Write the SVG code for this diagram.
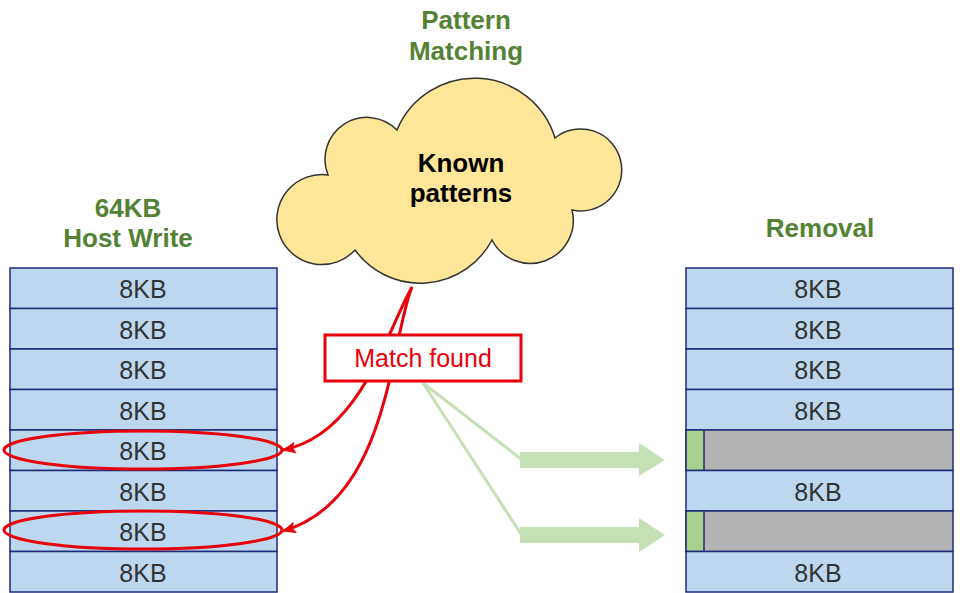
<svg xmlns="http://www.w3.org/2000/svg" width="960" height="593" viewBox="0 0 960 593">
<style>
.title{font-family:"Liberation Sans",Arial,sans-serif;font-weight:bold;font-size:26px;fill:#548235;text-anchor:middle}
.blk{fill:#BDD7EE;stroke:#1F2A7A;stroke-width:1.5}
.gray{fill:#B3B3B3;stroke:#1F2A7A;stroke-width:1.5}
.strip{fill:#A9D18E;stroke:#1F2A7A;stroke-width:1.5}
.lbl{font-family:"Liberation Sans",Arial,sans-serif;font-size:25px;fill:#333333;text-anchor:middle}
.red{fill:none;stroke:#E8000B;stroke-width:3}
.glink{fill:none;stroke:#C5E0B4;stroke-width:3}
.garrow{fill:#C5E0B4}
</style>
<defs>
<marker id="ah" viewBox="0 0 14 12" refX="13" refY="6" markerWidth="14" markerHeight="12" markerUnits="userSpaceOnUse" orient="auto">
<path d="M0,0 L14,6 L0,12 L3,6 z" fill="#E8000B"/>
</marker>
</defs>
<rect width="960" height="593" fill="#FFFFFF"/>

<g id="title-pattern">
<text class="title" x="466" y="29">Pattern</text>
<text class="title" x="466" y="60">Matching</text>
</g>
<g id="title-host">
<text class="title" x="128" y="217">64KB</text>
<text class="title" x="128" y="247">Host Write</text>
</g>
<g id="title-removal">
<text class="title" x="820" y="237">Removal</text>
</g>

<g id="cloud">
<path d="M328,175 A42,42 0 0 1 397,130 A84,84 0 0 1 555,138 A41,41 0 1 1 572,210 A43,43 0 0 1 492,240 A81,81 0 0 1 355,250 A45,45 0 1 1 328,175 Z" fill="#FFE699" stroke="#333333" stroke-width="1.5"/>
<text class="title" style="fill:#000000" x="461" y="172">Known</text>
<text class="title" style="fill:#000000" x="461" y="202">patterns</text>
</g>

<g id="host-write">
<rect class="blk" x="10" y="268" width="267" height="40.5"/>
<rect class="blk" x="10" y="308.5" width="267" height="40.5"/>
<rect class="blk" x="10" y="349" width="267" height="40.5"/>
<rect class="blk" x="10" y="389.5" width="267" height="40.5"/>
<rect class="blk" x="10" y="430" width="267" height="40.5"/>
<rect class="blk" x="10" y="470.5" width="267" height="40.5"/>
<rect class="blk" x="10" y="511" width="267" height="40.5"/>
<rect class="blk" x="10" y="551.5" width="267" height="40.5"/>
<text class="lbl" x="143" y="298">8KB</text>
<text class="lbl" x="143" y="338.5">8KB</text>
<text class="lbl" x="143" y="379">8KB</text>
<text class="lbl" x="143" y="419.5">8KB</text>
<text class="lbl" x="143" y="460">8KB</text>
<text class="lbl" x="143" y="500.5">8KB</text>
<text class="lbl" x="143" y="541">8KB</text>
<text class="lbl" x="143" y="581.5">8KB</text>
</g>

<g id="removal">
<rect class="blk" x="686" y="268" width="267" height="40.5"/>
<rect class="blk" x="686" y="308.5" width="267" height="40.5"/>
<rect class="blk" x="686" y="349" width="267" height="40.5"/>
<rect class="blk" x="686" y="389.5" width="267" height="40.5"/>
<rect class="gray" x="686" y="430" width="267" height="40.5"/>
<rect class="strip" x="686" y="430" width="18" height="40.5"/>
<rect class="blk" x="686" y="470.5" width="267" height="40.5"/>
<rect class="gray" x="686" y="511" width="267" height="40.5"/>
<rect class="strip" x="686" y="511" width="18" height="40.5"/>
<rect class="blk" x="686" y="551.5" width="267" height="40.5"/>
<text class="lbl" x="818" y="298">8KB</text>
<text class="lbl" x="818" y="338.5">8KB</text>
<text class="lbl" x="818" y="379">8KB</text>
<text class="lbl" x="818" y="419.5">8KB</text>
<text class="lbl" x="818" y="500.5">8KB</text>
<text class="lbl" x="818" y="581.5">8KB</text>
</g>

<g id="connectors">
<path class="red" d="M412,287 C385,335 360,435 283,450" marker-end="url(#ah)"/>
<path class="red" d="M412,287 C390,340 390,500 283,531" marker-end="url(#ah)"/>
<ellipse class="red" cx="143" cy="450" rx="139" ry="19"/>
<ellipse class="red" cx="143" cy="530" rx="139" ry="19"/>
<line class="glink" x1="423" y1="383" x2="521" y2="459"/>
<line class="glink" x1="423" y1="383" x2="521" y2="534"/>
<path class="garrow" d="M520,452 L639,452 L639,443 L665,460 L639,476 L639,468 L520,468 Z"/>
<path class="garrow" d="M520,527 L639,527 L639,518 L665,535 L639,552 L639,543 L520,543 Z"/>
</g>

<g id="match-found">
<rect x="325" y="335" width="196" height="46" fill="#FFFFFF" stroke="#E8000B" stroke-width="3"/>
<text class="lbl" style="fill:#E8000B" x="423" y="367">Match found</text>
</g>
</svg>
